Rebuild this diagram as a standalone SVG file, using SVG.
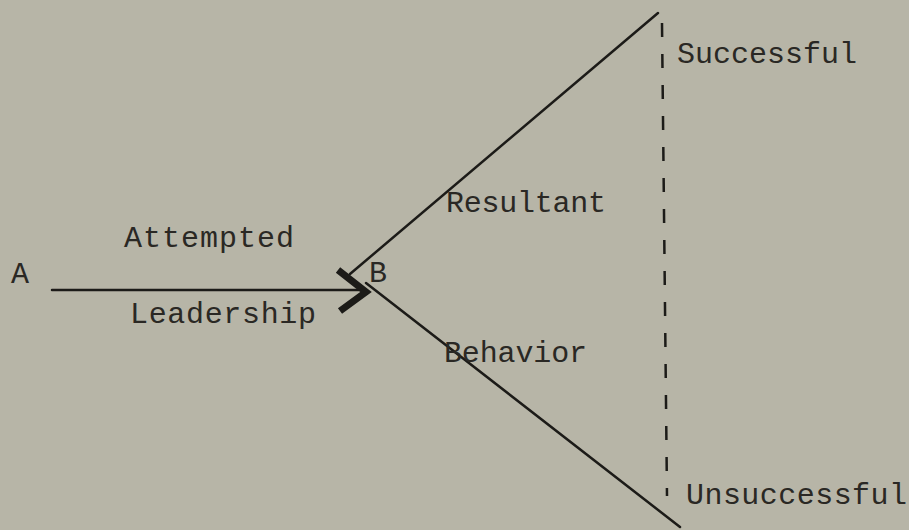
<svg xmlns="http://www.w3.org/2000/svg" width="909" height="530" viewBox="0 0 909 530">
<style>
text{font-family:"Liberation Mono","DejaVu Sans Mono",monospace;font-size:30px;fill:#2a2824}
.ln{stroke:#1c1b18;stroke-width:2.5;fill:none;stroke-linecap:round}
.ds{stroke:#1c1b18;stroke-width:2.5;fill:none;stroke-dasharray:14 17}
</style>
<rect width="909" height="530" fill="#b7b5a7"/>
<g id="connectors">
<line class="ln" x1="52" y1="290" x2="362" y2="290"/>
<path d="M338 270 L366 292 L340 311" fill="none" stroke="#1c1b18" stroke-width="7" stroke-linejoin="miter"/>
<line class="ln" x1="350" y1="274" x2="658" y2="13"/>
<line class="ln" x1="366" y1="283" x2="680" y2="527"/>
<line class="ds" x1="662" y1="23" x2="667" y2="496"/>
</g>
<g id="node-A"><text x="11" y="283">A</text></g>
<g id="node-B"><text x="369" y="282">B</text></g>
<g id="label-attempted"><text x="124" y="247" textLength="170">Attempted</text></g>
<g id="label-leadership"><text x="130" y="323" textLength="186">Leadership</text></g>
<g id="label-resultant"><text x="446" y="212" textLength="160">Resultant</text></g>
<g id="label-behavior"><text x="444" y="362" textLength="143">Behavior</text></g>
<g id="node-successful"><text x="677" y="63" textLength="180">Successful</text></g>
<g id="node-unsuccessful"><text x="686" y="504" textLength="221">Unsuccessful</text></g>
</svg>
